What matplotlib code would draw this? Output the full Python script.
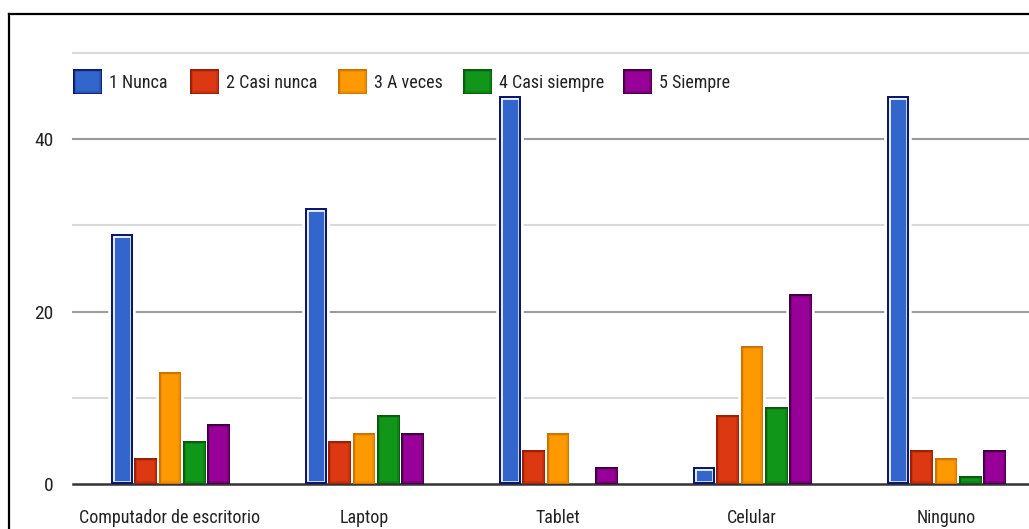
import matplotlib
matplotlib.use("Agg")
import matplotlib.pyplot as plt
import matplotlib.patheffects as pe
from matplotlib import font_manager as fm
from matplotlib.patches import Rectangle
from matplotlib.lines import Line2D
import numpy as np

# Survey answers per device (counts of respondents)
categories = ["Computador de escritorio", "Laptop", "Tablet", "Celular", "Ninguno"]
series_names = ["1 Nunca", "2 Casi nunca", "3 A veces", "4 Casi siempre", "5 Siempre"]
nunca = [29, 32, 45, 2, 45]
casi_nunca = [3, 5, 4, 8, 4]
a_veces = [13, 6, 6, 16, 3]
casi_siempre = [5, 8, 0, 9, 1]
siempre = [7, 6, 2, 22, 4]
y_major = [0, 20, 40]
y_minor = [10, 30, 50]

fills = ["#3366cc", "#dc3912", "#ff9900", "#109618", "#990099"]
mids = ["#2a52b0", "#c4300e", "#f08c00", "#0d8215", "#7a007a"]
edges = ["#0b1870", "#962006", "#c97200", "#09580f", "#3c003c"]

PREFERRED = ["Liberation Sans Narrow", "Arial Narrow", "Nimbus Sans Narrow",
             "Nimbus Sans L Condensed", "Roboto Condensed", "Arimo Narrow",
             "Archivo Narrow", "Open Sans Condensed", "Noto Sans Condensed"]


def pick_narrow_font():
    """Find an installed narrow/condensed sans face, regular weight."""
    regular = [f for f in fm.fontManager.ttflist
               if f.style == "normal" and f.weight in (400, "normal", "regular")]
    names = {f.name: f for f in regular}
    for n in PREFERRED:
        if n in names:
            return names[n]
    best, best_score = None, -1
    for f in regular:
        name, stretch = f.name, str(f.stretch)
        score = -1
        if "Narrow" in name:
            score = 80
        elif "Condensed" in name and "Extra" not in name and "Semi" not in name:
            score = 70
        elif stretch == "condensed":
            score = 60
        if score > 0 and "Sans" in name:
            score += 5
        if score > best_score:
            best, best_score = f, score
    return best


narrow = pick_narrow_font()
if narrow is not None:
    plt.rcParams["font.family"] = [narrow.name, "Liberation Sans", "DejaVu Sans"]
    plt.rcParams["font.stretch"] = narrow.stretch
    FS = 13
else:
    plt.rcParams["font.family"] = ["Liberation Sans", "DejaVu Sans"]
    FS = 12

W, H, DPI = 1029, 529, 100
TXT = "#222222"

fig = plt.figure(figsize=(W / DPI, H / DPI), dpi=DPI)
fig.patch.set_facecolor("white")


def fx(px):
    return px / W


def fy(py):
    return (H - py) / H


class Ring(pe.AbstractPathEffect):
    """Outline only (no fill), so earlier rings stay visible."""

    def __init__(self, linewidth, color):
        super().__init__()
        self.lw = linewidth
        self.color = color

    def draw_path(self, renderer, gc, tpath, affine, rgbFace=None):
        gc0 = renderer.new_gc()
        gc0.copy_properties(gc)
        gc0.set_linewidth(self.lw)
        gc0.set_foreground(self.color)
        renderer.draw_path(gc0, tpath, affine, None)
        gc0.restore()


def style_bar(patch, j):
    if j == 0:
        effects = [pe.Normal(), Ring(4.8, "white"), Ring(3.0, edges[0])]
    else:
        effects = [pe.Normal(), Ring(4.0, mids[j]), Ring(1.8, edges[j])]
    patch.set_path_effects(effects)
    patch.set_clip_path(patch)


ax = fig.add_axes([fx(73), fy(484.3), 970 / W, 431.5 / H])
ax.set_xlim(-0.5, len(categories) - 0.5)
ax.set_ylim(0, 50)
for s in ax.spines.values():
    s.set_visible(False)

# gridlines: darker for labelled values, light in between
for v in y_minor:
    ax.axhline(v, color="#d9d9d9", lw=1.5, zorder=1, clip_on=False)
for v in y_major[1:]:
    ax.axhline(v, color="#9a9a9a", lw=1.5, zorder=1, clip_on=False)
ax.axhline(0, color="#333333", lw=1.8, zorder=2.8, clip_on=False)

ax.set_yticks(y_major)
ax.set_yticklabels([str(v) for v in y_major])
x = np.arange(len(categories))
ax.set_xticks(x)
ax.set_xticklabels(categories)
ax.tick_params(axis="y", length=0, pad=14, labelsize=FS + 1, labelcolor=TXT)
ax.tick_params(axis="x", length=0, pad=18, labelsize=FS, labelcolor=TXT)

series = [nunca, casi_nunca, a_veces, casi_siempre, siempre]
slot = 0.1245
for j, vals in enumerate(series):
    pos = x + (j - 2) * slot
    width = slot * (0.90 if j == 0 else 0.95)
    ax.bar(pos, vals, width=width, color="white", edgecolor="white",
           linewidth=4.0, zorder=2.5)
    bars = ax.bar(pos, vals, width=width, color=fills[j], linewidth=0, zorder=3)
    for b in bars:
        style_bar(b, j)

# legend row across the top
sq_left = [73, 190, 338, 463, 623]
for j, name in enumerate(series_names):
    r = Rectangle((fx(sq_left[j]), fy(94)), 29 / W, 25 / H,
                  transform=fig.transFigure, facecolor=fills[j], linewidth=0)
    fig.add_artist(r)
    r.set_path_effects([pe.Normal(), Ring(4.0, mids[j]), Ring(1.8, edges[j])])
    r.set_clip_path(r)
    fig.text(fx(sq_left[j] + 36), fy(83), name, fontsize=FS, color=TXT,
             ha="left", va="center")

# frame around the chart
fig.add_artist(Line2D([fx(9), fx(9)], [0, fy(14)], color="black", lw=1.6))
fig.add_artist(Line2D([fx(9), 1.0], [fy(14), fy(14)], color="black", lw=1.6))

fig.savefig("out.png", dpi=DPI, facecolor="white")
